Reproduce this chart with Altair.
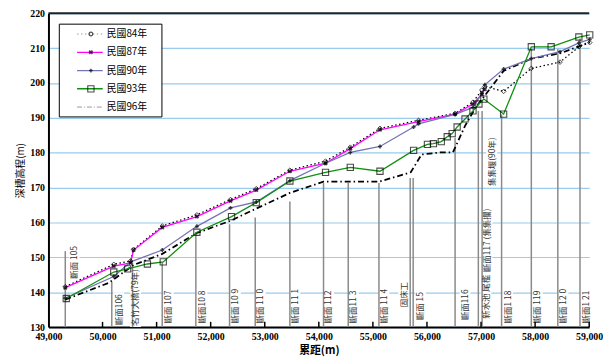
import altair as alt
import pandas as pd

# ---------------- data ----------------
series_names = ["民國84年", "民國87年", "民國90年", "民國93年", "民國96年"]

dist84 = [49311, 50208, 50519, 50574, 51105, 51745, 52367, 52843, 53465, 54124, 54582,
          55131, 55844, 56521, 56851, 57015, 57070, 57418, 57930, 58460, 58810, 59010]
elev84 = [141.6, 148.0, 149.0, 152.3, 159.0, 162.2, 166.6, 169.7, 175.0, 177.6, 181.6,
          187.0, 189.3, 191.3, 194.5, 198.0, 199.0, 197.6, 204.2, 206.0, 210.4, 211.6]

dist87 = [49311, 50208, 50519, 50574, 51105, 51745, 52367, 52843, 53465, 54124, 54582,
          55131, 55844, 56521, 56851, 57015, 57070]
elev87 = [141.3, 147.5, 148.4, 152.1, 158.6, 161.7, 166.2, 169.3, 174.7, 177.0, 181.2,
          186.6, 188.9, 191.1, 194.0, 196.8, 198.2]

dist90 = [49311, 50208, 50519, 51105, 51745, 52367, 52843, 53465, 54124, 54582, 55131,
          55753, 55844, 56521, 56851, 57015, 57070, 57418, 57930, 58460, 58810, 59010]
elev90 = [138.3, 144.5, 148.7, 152.1, 158.9, 164.2, 165.9, 172.0, 177.0, 180.1, 181.8,
          187.4, 188.3, 191.0, 193.0, 197.0, 199.5, 204.0, 207.0, 209.0, 211.5, 212.5]

dist93 = [49329, 50208, 50464, 50830, 51123, 51745, 52386, 52843, 53465, 54124, 54582,
          55131, 55753, 56009, 56119, 56265, 56375, 56466, 56558, 56704, 56851, 56961,
          57052, 57418, 57930, 58296, 58809, 59010]
elev93 = [138.2, 145.8, 146.7, 148.1, 148.7, 157.2, 161.7, 165.7, 171.9, 174.4, 175.8,
          174.7, 180.7, 182.4, 182.6, 183.2, 184.6, 185.5, 187.4, 189.7, 192.0, 194.0,
          195.4, 191.1, 210.4, 210.4, 213.2, 213.8]

dist96 = [49311, 50116, 50574, 51105, 51745, 52367, 52843, 53465, 54087, 54544, 55112,
          55700, 55900, 56250, 56480, 56704, 56900, 57050, 57418, 57930, 58460, 58810, 59010]
elev96 = [137.9, 142.7, 147.8, 151.0, 157.0, 160.5, 164.0, 168.5, 171.7, 171.7, 171.7,
          174.4, 179.5, 180.1, 180.1, 187.7, 193.0, 196.0, 203.5, 207.0, 208.5, 210.5, 211.8]

# section marker lines
sec_dist = [49311, 50171, 50555, 51104, 51726, 52349, 52824, 53465, 54087, 54544, 55112,
            55690, 55745, 56520, 56950, 57020, 57380, 57930, 58420, 58830]
sec_top = [151.8, 143.0, 148.4, 148.7, 157.2, 159.5, 161.4, 166.0, 171.3, 171.3, 171.3,
           172.8, 172.8, 184.3, 192.0, 192.0, 191.0, 209.8, 209.8, 212.8]

# section labels
lab_text = ["斷面 105", "斷面106", "名竹大橋(79年)", "斷面 107", "斷面10 8", "斷面 10 9",
            "斷面 11 0", "斷面 11 1", "斷面 112", "斷面11 3", "斷面 11 4", "固床工", "斷面 15",
            "斷面116", "新水池 尾檻", "斷面117 (集集攔)", "集集堰(90年)", "斷面1 18",
            "斷面 119", "斷面 12 0", "斷面1 21"]
lab_x = [49476, 50300, 50610, 51214, 51837, 52459, 52916, 53557, 54179, 54636, 55204,
         55570, 55881, 56704, 57090, 57110, 57198, 57491, 58040, 58516, 58937]
lab_y = [143.9, 130.6, 130.3, 131.1, 131.1, 131.1, 131.1, 131.1, 131.1, 131.1, 131.1,
         135.7, 132.0, 132.0, 132.4, 145.8, 170.5, 131.1, 131.1, 131.1, 131.1]

x_ticks = list(range(49000, 59001, 1000))
y_ticks = list(range(130, 221, 10))

# ---------------- chart ----------------
W, H = 548, 318
M_PER_PX = 10000 / W
E_PER_PX = 90 / H
CJK = "Noto Sans CJK TC"
SERIF = "Liberation Serif"
LFS = 8.5

xs = alt.Scale(domain=[49000, 59000], nice=False)
ys = alt.Scale(domain=[130, 220], nice=False)

xaxis = alt.Axis(values=x_ticks, format=",d", grid=False, ticks=False, domainColor="black",
                 domainWidth=2, labelFont=SERIF, labelFontWeight="bold", labelFontSize=10,
                 labelColor="black", labelPadding=5, title="累距(m)", titleFont=CJK,
                 titleFontSize=11, titleFontWeight="bold", titlePadding=3, titleColor="black",
                 labelFlush=False, labelOverlap=False)
yaxis = alt.Axis(values=y_ticks, grid=True, gridColor="#99ccee", gridWidth=1.2, ticks=False,
                 domainColor="black", domainWidth=2, labelFont=SERIF, labelFontWeight="bold",
                 labelFontSize=10, labelColor="black", labelPadding=4, title="深槽高程(m)",
                 titleFont=CJK, titleFontSize=10, titleFontWeight="normal", titlePadding=4,
                 titleColor="black", labelOverlap=False, labelFlush=False)


def df(d, e):
    return pd.DataFrame({"dist": d, "elev": e})


def XQ(f):
    return alt.X(f, scale=xs, axis=xaxis, title="累距(m)")


def YQ(f):
    return alt.Y(f, scale=ys, axis=yaxis, title="深槽高程(m)")


Xn = XQ("dist:Q")
Yn = YQ("elev:Q")

layers = []

# white boxes behind section labels
def label_len(t):
    return sum(LFS if ord(c) > 255 else (2.5 if c == " " else 4.7) for c in t)

box = pd.DataFrame({
    "x1": [x - 5.5 * M_PER_PX for x in lab_x],
    "x2": [x + 5.5 * M_PER_PX for x in lab_x],
    "y1": [y - 1 * E_PER_PX for y in lab_y],
    "y2": [y + (label_len(t) + 2) * E_PER_PX for t, y in zip(lab_text, lab_y)],
})
layers.append(alt.Chart(box).mark_rect(color="white").encode(
    x=XQ("x1:Q"), x2="x2:Q", y=YQ("y1:Q"), y2="y2:Q"))

# section lines
sec = pd.DataFrame({"dist": sec_dist, "top": sec_top, "bottom": [130] * len(sec_dist)})
layers.append(alt.Chart(sec).mark_rule(color="#8a8a8a", strokeWidth=1.5).encode(
    x=Xn, y=YQ("top:Q"), y2="bottom:Q"))

# section labels
lab = pd.DataFrame({"t": lab_text, "dist": lab_x, "elev": lab_y})
layers.append(alt.Chart(lab).mark_text(angle=270, align="left", baseline="middle",
                                       font=CJK, fontSize=LFS, color="#333333").encode(
    x=Xn, y=Yn, text="t:N"))

# inner ticks on x axis
tk = pd.DataFrame({"dist": x_ticks[1:], "a": [130] * 10, "b": [131.5] * 10})
layers.append(alt.Chart(tk).mark_rule(color="black", strokeWidth=1.5).encode(
    x=Xn, y=YQ("a:Q"), y2="b:Q"))

# top border
layers.append(alt.Chart(pd.DataFrame({"elev": [220]})).mark_rule(
    color="#222222", strokeWidth=2).encode(y=Yn))

# series
d96 = df(dist96, elev96)
layers.append(alt.Chart(d96).mark_line(color="black", strokeWidth=1.8,
                                       strokeDash=[6, 3, 1.5, 3]).encode(x=Xn, y=Yn))
d84 = df(dist84, elev84)
layers.append(alt.Chart(d84).mark_line(color="black", strokeWidth=1.3,
                                       strokeDash=[1.5, 2.5]).encode(x=Xn, y=Yn))
d87 = df(dist87, elev87)
layers.append(alt.Chart(d87).mark_line(color="#ff00ff", strokeWidth=1.3).encode(x=Xn, y=Yn))
d90 = df(dist90, elev90)
layers.append(alt.Chart(d90).mark_line(color="#7474b4", strokeWidth=1.3).encode(x=Xn, y=Yn))
d93 = df(dist93, elev93)
layers.append(alt.Chart(d93).mark_line(color="#109010", strokeWidth=1.3).encode(x=Xn, y=Yn))

layers.append(alt.Chart(d84).mark_point(shape="diamond", filled=False, color="black",
                                        size=22, strokeWidth=1).encode(x=Xn, y=Yn))
layers.append(alt.Chart(d87).mark_point(shape="cross", angle=45, filled=True, color="black",
                                        size=22).encode(x=Xn, y=Yn))
layers.append(alt.Chart(d90).mark_point(shape="cross", filled=True, color="black",
                                        size=16).encode(x=Xn, y=Yn))
layers.append(alt.Chart(d93).mark_point(shape="square", filled=False, color="black",
                                        size=40, strokeWidth=1.1).encode(x=Xn, y=Yn))

# legend
one = pd.DataFrame({"a": [0]})
layers.append(alt.Chart(one).mark_rect(fill="white", stroke="black", strokeWidth=1).encode(
    x=alt.value(11), x2=alt.value(115), y=alt.value(11), y2=alt.value(105)))
leg_color = ["#999999", "#ff00ff", "#7474b4", "#109010", "#999999"]
leg_dash = [[1.5, 2.5], [1, 0], [1, 0], [1, 0], [5, 2, 1, 2]]
leg_width = [1, 1.3, 1.3, 1.5, 1]
for i, name in enumerate(series_names):
    yy = 21 + 18.5 * i
    layers.append(alt.Chart(one).mark_rule(color=leg_color[i], strokeWidth=leg_width[i],
                                           strokeDash=leg_dash[i]).encode(
        x=alt.value(29), x2=alt.value(55), y=alt.value(yy)))
    layers.append(alt.Chart(one).mark_text(align="left", baseline="middle", font=CJK,
                                           fontSize=10, color="black", text=name).encode(
        x=alt.value(59), y=alt.value(yy)))
layers.append(alt.Chart(one).mark_point(shape="circle", filled=False, color="black", size=14,
                                        strokeWidth=1.2).encode(x=alt.value(43), y=alt.value(21)))
layers.append(alt.Chart(one).mark_point(shape="cross", angle=45, filled=True, color="black",
                                        size=22).encode(x=alt.value(43), y=alt.value(39.5)))
layers.append(alt.Chart(one).mark_point(shape="cross", filled=True, color="black",
                                        size=14).encode(x=alt.value(43), y=alt.value(58)))
layers.append(alt.Chart(one).mark_point(shape="square", filled=False, color="black",
                                        size=40, strokeWidth=1.1).encode(x=alt.value(43), y=alt.value(76.5)))

chart = alt.layer(*layers).properties(
    width=W, height=H,
    autosize=alt.AutoSizeParams(type="none"),
    padding={"left": 41, "top": 3, "right": 14, "bottom": 34},
    background="white"
).configure_view(stroke=None)

chart.save("out.html", embed_options={"renderer": "svg", "actions": False})
